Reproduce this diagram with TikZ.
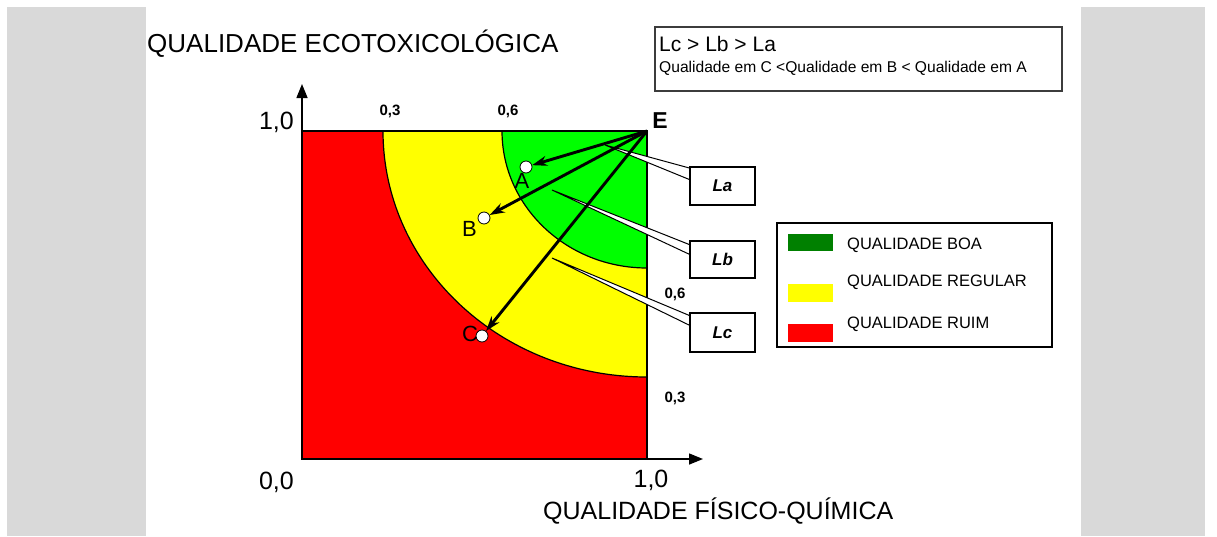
\documentclass[tikz,border=0pt]{standalone}
\usepackage{fontspec}
\setmainfont{Liberation Sans}
\usetikzlibrary{arrows.meta}
\definecolor{grayband}{RGB}{217,217,217}
\definecolor{qred}{RGB}{255,0,0}
\definecolor{qyellow}{RGB}{255,255,0}
\definecolor{qgreen}{RGB}{0,255,0}
\definecolor{qdarkgreen}{RGB}{0,128,0}
\definecolor{boxgray}{RGB}{60,60,60}
\begin{document}
\begin{tikzpicture}[x=1pt,y=-1pt,
  bigtxt/.style={font=\fontsize{25}{30}\selectfont, inner sep=0pt},
  ticktxt/.style={font=\fontsize{15}{18}\selectfont\bfseries, inner sep=0pt, anchor=base},
  pttxt/.style={font=\fontsize{22}{26}\selectfont, inner sep=0pt, anchor=base},
  legtxt/.style={font=\fontsize{16.5}{20}\selectfont, inner sep=0pt, anchor=base west},
  ptc/.style={circle, draw=black, fill=white, line width=0.8pt, minimum size=12pt, inner sep=0pt},
  axisline/.style={line width=1.5pt, -{Triangle[length=14pt,width=11pt]}},
  earrow/.style={line width=2.9pt, -{Stealth[length=15pt,width=10pt]}},
  wedge/.style={fill=white, draw=black, line width=1pt, line join=miter},
  lbox/.style={draw=black, fill=white, line width=1.3pt, minimum width=65pt, inner sep=0pt, font=\fontsize{17}{20}\selectfont\bfseries\itshape},
  swatch/.style={inner sep=0pt, minimum width=45pt, minimum height=18pt}
]
\useasboundingbox (0,0) rectangle (1217,536);
\fill[white] (0,0) rectangle (1217,536);
\fill[grayband] (7,7) rectangle (146,536);
\fill[grayband] (1081,7) rectangle (1205,536);

% chart regions
\coordinate (O) at (302,459);
\coordinate (E) at (647,131);
\fill[qred] (302,131) rectangle (647,459);
\begin{scope}
  \clip (302,131) rectangle (647,459);
  \filldraw[fill=qyellow, draw=black, line width=1.2pt] (E) ellipse [x radius=264pt, y radius=246pt];
  \filldraw[fill=qgreen, draw=black, line width=1.2pt] (E) ellipse [x radius=145pt, y radius=137pt];
\end{scope}
\draw[line width=1.4pt] (302,131) rectangle (647,459);

% axes
\coordinate (ytip) at (302,84);
\coordinate (xtip) at (703,459);
\draw[axisline] (O) -- (ytip);
\draw[axisline] (O) -- (xtip);

% axis texts
\node[bigtxt, font=\fontsize{26}{30}\selectfont, anchor=base west] (ytitle) at (147,52.5) {QUALIDADE ECOTOXICOLÓGICA};
\node[bigtxt, anchor=base west] (xtitle) at (543,519) {QUALIDADE FÍSICO-QUÍMICA};
\node[bigtxt, anchor=base east] (y10) at (294,129) {1,0};
\node[bigtxt, anchor=base east] (o00) at (294,489) {0,0};
\node[bigtxt, anchor=base] (x10) at (651,487) {1,0};

% tick values
\node[ticktxt] (t03) at (390,115.5) {0,3};
\node[ticktxt] (t06) at (508,115.5) {0,6};
\node[ticktxt] (r06) at (675,298) {0,6};
\node[ticktxt] (r03) at (675,402) {0,3};

% callout wedges
\coordinate (tipa) at (605,145);
\coordinate (tipb) at (552,190);
\coordinate (tipc) at (552,258);
\draw[wedge] (tipa) -- (693,169) -- (693,181) -- cycle;
\draw[wedge] (tipb) -- (693,246) -- (693,256) -- cycle;
\draw[wedge] (tipc) -- (693,317) -- (693,327) -- cycle;

% callout boxes
\node[lbox, minimum height=38pt] (La) at (722.5,186) {La};
\node[lbox, minimum height=37pt] (Lb) at (722.5,259.5) {Lb};
\node[lbox, minimum height=39pt] (Lc) at (722.5,332.5) {Lc};

% points
\node[ptc] (A) at (526,167) {};
\node[ptc] (B) at (484,218) {};
\node[ptc] (C) at (482,336) {};
\node[pttxt] (Alab) at (522,188) {A};
\node[pttxt] (Blab) at (469.5,236) {B};
\node[pttxt] (Clab) at (470,341) {C};
\node[font=\fontsize{23}{26}\selectfont\bfseries, inner sep=0pt, anchor=base] (Elab) at (660,128) {E};

% arrows from E
\draw[earrow] (E) -- (A);
\draw[earrow] (E) -- (B);
\draw[earrow] (E) -- (C);

% top box
\node[draw=boxgray, line width=1.5pt, minimum width=407pt, minimum height=64pt, inner sep=0pt] (topbox) at (858.5,59) {};
\node[font=\fontsize{21}{24}\selectfont, inner sep=0pt, anchor=base west] (ineq1) at (659,51) {Lc > Lb > La};
\node[font=\fontsize{15.6}{18}\selectfont, inner sep=0pt, anchor=base west] (ineq2) at (659,72.5) {Qualidade em C <Qualidade em B < Qualidade em A};

% legend
\node[draw=black, line width=1.3pt, minimum width=275pt, minimum height=124pt, inner sep=0pt] (legend) at (914.5,285) {};
\node[swatch, fill=qdarkgreen, minimum height=17pt] (sg) at (810.5,242.5) {};
\node[swatch, fill=qyellow] (sy) at (810.5,293) {};
\node[swatch, fill=qred] (sr) at (810.5,333) {};
\node[legtxt] (lg) at (847,249) {QUALIDADE BOA};
\node[legtxt] (ly) at (847,286) {QUALIDADE REGULAR};
\node[legtxt] (lr) at (847,328) {QUALIDADE RUIM};
\end{tikzpicture}
\end{document}
